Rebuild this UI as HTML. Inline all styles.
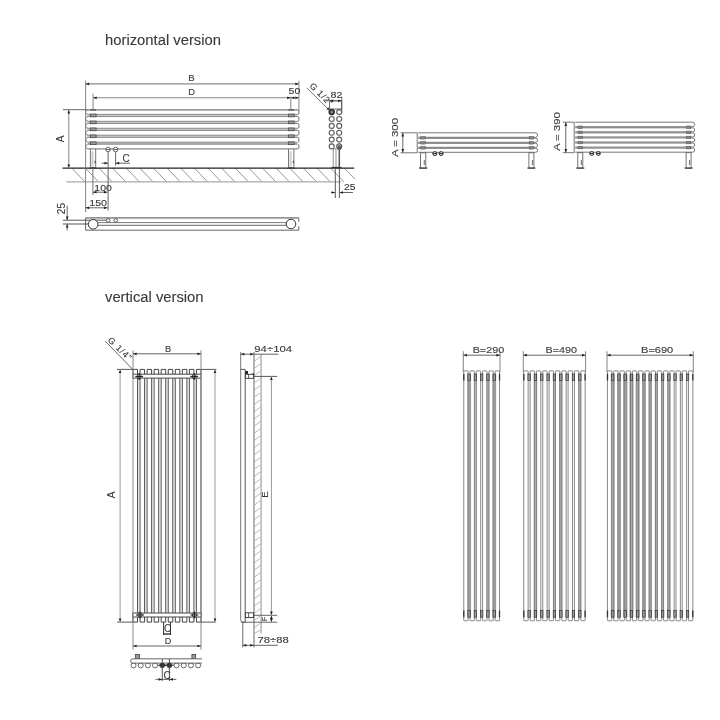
<!DOCTYPE html>
<html><head><meta charset="utf-8"><title>radiator</title>
<style>
html,body{margin:0;padding:0;background:#fff;}
body{width:720px;height:720px;overflow:hidden;}
svg{display:block;filter:blur(0.3px);font-family:"Liberation Sans",sans-serif;}
</style></head>
<body>
<svg width="720" height="720" viewBox="0 0 720 720">
<rect width="720" height="720" fill="#fff"/>
<text x="105.00" y="45.20" font-size="14" text-anchor="start" fill="#3a3a3a" stroke="#3a3a3a" stroke-width="0.12" textLength="116" lengthAdjust="spacingAndGlyphs">horizontal version</text>
<line x1="71.70" y1="168.10" x2="84.90" y2="181.80" stroke="#858585" stroke-width="0.85"/>
<line x1="85.33" y1="168.10" x2="98.53" y2="181.80" stroke="#858585" stroke-width="0.85"/>
<line x1="98.96" y1="168.10" x2="112.16" y2="181.80" stroke="#858585" stroke-width="0.85"/>
<line x1="112.59" y1="168.10" x2="125.79" y2="181.80" stroke="#858585" stroke-width="0.85"/>
<line x1="126.22" y1="168.10" x2="139.42" y2="181.80" stroke="#858585" stroke-width="0.85"/>
<line x1="139.85" y1="168.10" x2="153.05" y2="181.80" stroke="#858585" stroke-width="0.85"/>
<line x1="153.48" y1="168.10" x2="166.68" y2="181.80" stroke="#858585" stroke-width="0.85"/>
<line x1="167.11" y1="168.10" x2="180.31" y2="181.80" stroke="#858585" stroke-width="0.85"/>
<line x1="180.74" y1="168.10" x2="193.94" y2="181.80" stroke="#858585" stroke-width="0.85"/>
<line x1="194.37" y1="168.10" x2="207.57" y2="181.80" stroke="#858585" stroke-width="0.85"/>
<line x1="208.00" y1="168.10" x2="221.20" y2="181.80" stroke="#858585" stroke-width="0.85"/>
<line x1="221.63" y1="168.10" x2="234.83" y2="181.80" stroke="#858585" stroke-width="0.85"/>
<line x1="235.26" y1="168.10" x2="248.46" y2="181.80" stroke="#858585" stroke-width="0.85"/>
<line x1="248.89" y1="168.10" x2="262.09" y2="181.80" stroke="#858585" stroke-width="0.85"/>
<line x1="262.52" y1="168.10" x2="275.72" y2="181.80" stroke="#858585" stroke-width="0.85"/>
<line x1="276.15" y1="168.10" x2="289.35" y2="181.80" stroke="#858585" stroke-width="0.85"/>
<line x1="289.78" y1="168.10" x2="302.98" y2="181.80" stroke="#858585" stroke-width="0.85"/>
<line x1="303.41" y1="168.10" x2="316.61" y2="181.80" stroke="#858585" stroke-width="0.85"/>
<line x1="317.04" y1="168.10" x2="330.24" y2="181.80" stroke="#858585" stroke-width="0.85"/>
<line x1="330.67" y1="168.10" x2="343.87" y2="181.80" stroke="#858585" stroke-width="0.85"/>
<line x1="344.30" y1="168.10" x2="355.00" y2="179.21" stroke="#858585" stroke-width="0.85"/>
<line x1="66.50" y1="181.80" x2="341.50" y2="181.80" stroke="#aaa" stroke-width="1.2"/>
<line x1="62.50" y1="168.10" x2="354.20" y2="168.10" stroke="#222" stroke-width="1.15"/>
<path d="M87.77,109.90 A2.17,2.17 0 0 0 87.77,114.25" stroke="#888" fill="none" stroke-width="0.9"/>
<path d="M297.90,109.90 Q298.9,109.90 298.9,110.90 L298.9,113.25 Q298.9,114.25 297.90,114.25" stroke="#6a6a6a" fill="none" stroke-width="1.0"/>
<path d="M87.88,116.65 A2.27,2.27 0 0 0 87.88,121.20" stroke="#888" fill="none" stroke-width="0.9"/>
<path d="M297.90,116.65 Q298.9,116.65 298.9,117.65 L298.9,120.20 Q298.9,121.20 297.90,121.20" stroke="#6a6a6a" fill="none" stroke-width="1.0"/>
<path d="M87.88,123.60 A2.27,2.27 0 0 0 87.88,128.15" stroke="#888" fill="none" stroke-width="0.9"/>
<path d="M297.90,123.60 Q298.9,123.60 298.9,124.60 L298.9,127.15 Q298.9,128.15 297.90,128.15" stroke="#6a6a6a" fill="none" stroke-width="1.0"/>
<path d="M87.88,130.55 A2.28,2.28 0 0 0 87.88,135.10" stroke="#888" fill="none" stroke-width="0.9"/>
<path d="M297.90,130.55 Q298.9,130.55 298.9,131.55 L298.9,134.10 Q298.9,135.10 297.90,135.10" stroke="#6a6a6a" fill="none" stroke-width="1.0"/>
<path d="M87.88,137.50 A2.28,2.28 0 0 0 87.88,142.05" stroke="#888" fill="none" stroke-width="0.9"/>
<path d="M297.90,137.50 Q298.9,137.50 298.9,138.50 L298.9,141.05 Q298.9,142.05 297.90,142.05" stroke="#6a6a6a" fill="none" stroke-width="1.0"/>
<path d="M87.78,144.45 A2.18,2.18 0 0 0 87.78,148.80" stroke="#888" fill="none" stroke-width="0.9"/>
<path d="M297.90,144.45 Q298.9,144.45 298.9,145.45 L298.9,147.80 Q298.9,148.80 297.90,148.80" stroke="#6a6a6a" fill="none" stroke-width="1.0"/>
<rect x="87.60" y="114.25" width="209.80" height="2.40" rx="0" stroke="none" fill="#c8c8c8" stroke-width="1"/>
<line x1="87.10" y1="114.35" x2="297.90" y2="114.35" stroke="#858585" stroke-width="0.9"/>
<line x1="87.10" y1="116.55" x2="297.90" y2="116.55" stroke="#858585" stroke-width="0.9"/>
<rect x="90.30" y="114.05" width="5.80" height="2.80" rx="0" stroke="#444" fill="#999" stroke-width="0.7"/>
<rect x="288.30" y="114.05" width="5.80" height="2.80" rx="0" stroke="#444" fill="#999" stroke-width="0.7"/>
<rect x="87.60" y="121.20" width="209.80" height="2.40" rx="0" stroke="none" fill="#c8c8c8" stroke-width="1"/>
<line x1="87.10" y1="121.30" x2="297.90" y2="121.30" stroke="#858585" stroke-width="0.9"/>
<line x1="87.10" y1="123.50" x2="297.90" y2="123.50" stroke="#858585" stroke-width="0.9"/>
<rect x="90.30" y="121.00" width="5.80" height="2.80" rx="0" stroke="#444" fill="#999" stroke-width="0.7"/>
<rect x="288.30" y="121.00" width="5.80" height="2.80" rx="0" stroke="#444" fill="#999" stroke-width="0.7"/>
<rect x="87.60" y="128.15" width="209.80" height="2.40" rx="0" stroke="none" fill="#c8c8c8" stroke-width="1"/>
<line x1="87.10" y1="128.25" x2="297.90" y2="128.25" stroke="#858585" stroke-width="0.9"/>
<line x1="87.10" y1="130.45" x2="297.90" y2="130.45" stroke="#858585" stroke-width="0.9"/>
<rect x="90.30" y="127.95" width="5.80" height="2.80" rx="0" stroke="#444" fill="#999" stroke-width="0.7"/>
<rect x="288.30" y="127.95" width="5.80" height="2.80" rx="0" stroke="#444" fill="#999" stroke-width="0.7"/>
<rect x="87.60" y="135.10" width="209.80" height="2.40" rx="0" stroke="none" fill="#c8c8c8" stroke-width="1"/>
<line x1="87.10" y1="135.20" x2="297.90" y2="135.20" stroke="#858585" stroke-width="0.9"/>
<line x1="87.10" y1="137.40" x2="297.90" y2="137.40" stroke="#858585" stroke-width="0.9"/>
<rect x="90.30" y="134.90" width="5.80" height="2.80" rx="0" stroke="#444" fill="#999" stroke-width="0.7"/>
<rect x="288.30" y="134.90" width="5.80" height="2.80" rx="0" stroke="#444" fill="#999" stroke-width="0.7"/>
<rect x="87.60" y="141.55" width="209.80" height="3.40" rx="0" stroke="none" fill="#a6a6a6" stroke-width="1"/>
<rect x="90.30" y="141.85" width="5.80" height="2.80" rx="0" stroke="#444" fill="#999" stroke-width="0.7"/>
<rect x="288.30" y="141.85" width="5.80" height="2.80" rx="0" stroke="#444" fill="#999" stroke-width="0.7"/>
<line x1="85.60" y1="109.90" x2="297.90" y2="109.90" stroke="#777" stroke-width="1.1"/>
<line x1="87.60" y1="148.80" x2="297.90" y2="148.80" stroke="#888" stroke-width="1.2"/>
<rect x="90.30" y="109.30" width="5.80" height="1.30" rx="0" stroke="none" fill="#555" stroke-width="1"/>
<rect x="288.30" y="109.30" width="5.80" height="1.30" rx="0" stroke="none" fill="#555" stroke-width="1"/>
<rect x="91.40" y="151.30" width="2.20" height="15.30" rx="0" stroke="none" fill="#d0d0d0" stroke-width="1"/>
<line x1="90.40" y1="148.80" x2="90.40" y2="168.10" stroke="#777" stroke-width="1"/>
<line x1="95.70" y1="148.80" x2="95.70" y2="168.10" stroke="#777" stroke-width="1"/>
<line x1="95.10" y1="160.80" x2="95.10" y2="163.20" stroke="#333" stroke-width="1"/>
<path d="M87.90,168.40 Q93.05,165.90 98.20,168.40 Z" stroke="none" fill="#333" stroke-width="1"/>
<rect x="289.50" y="151.30" width="2.20" height="15.30" rx="0" stroke="none" fill="#d0d0d0" stroke-width="1"/>
<line x1="288.50" y1="148.80" x2="288.50" y2="168.10" stroke="#777" stroke-width="1"/>
<line x1="293.90" y1="148.80" x2="293.90" y2="168.10" stroke="#777" stroke-width="1"/>
<line x1="293.30" y1="160.80" x2="293.30" y2="163.20" stroke="#333" stroke-width="1"/>
<path d="M286.00,168.40 Q291.20,165.90 296.40,168.40 Z" stroke="none" fill="#333" stroke-width="1"/>
<circle cx="108.10" cy="149.50" r="2.30" stroke="#555" fill="#fff" stroke-width="0.9"/>
<line x1="105.80" y1="149.50" x2="110.40" y2="149.50" stroke="#555" stroke-width="0.9"/>
<circle cx="115.60" cy="149.50" r="2.30" stroke="#555" fill="#fff" stroke-width="0.9"/>
<line x1="113.30" y1="149.50" x2="117.90" y2="149.50" stroke="#555" stroke-width="0.9"/>
<line x1="108.10" y1="151.80" x2="108.10" y2="210.50" stroke="#666" stroke-width="1"/>
<line x1="115.60" y1="151.80" x2="115.60" y2="165.60" stroke="#666" stroke-width="1"/>
<line x1="85.60" y1="80.60" x2="85.60" y2="210.00" stroke="#777" stroke-width="0.9"/>
<line x1="298.90" y1="80.80" x2="298.90" y2="111.00" stroke="#777" stroke-width="0.9"/>
<line x1="85.60" y1="83.90" x2="298.90" y2="83.90" stroke="#888" stroke-width="1.1"/>
<path d="M85.80,83.90 L89.20,82.55 L89.20,85.25 Z" fill="#222"/>
<path d="M298.70,83.90 L295.30,85.25 L295.30,82.55 Z" fill="#222"/>
<text x="191.40" y="80.70" font-size="9.6" text-anchor="middle" fill="#3a3a3a" stroke="#3a3a3a" stroke-width="0.12">B</text>
<line x1="93.10" y1="93.70" x2="93.10" y2="110.00" stroke="#777" stroke-width="0.9"/>
<line x1="290.80" y1="96.50" x2="290.80" y2="110.00" stroke="#777" stroke-width="0.9"/>
<line x1="93.10" y1="97.80" x2="298.90" y2="97.80" stroke="#888" stroke-width="1.1"/>
<path d="M93.30,97.80 L96.70,96.45 L96.70,99.15 Z" fill="#222"/>
<path d="M290.60,97.80 L287.20,99.15 L287.20,96.45 Z" fill="#222"/>
<path d="M291.00,97.80 L294.40,96.45 L294.40,99.15 Z" fill="#222"/>
<path d="M298.70,97.80 L295.30,99.15 L295.30,96.45 Z" fill="#222"/>
<text x="191.65" y="95.40" font-size="9.3" text-anchor="middle" fill="#3a3a3a" stroke="#3a3a3a" stroke-width="0.12">D</text>
<text x="294.50" y="94.00" font-size="8.9" text-anchor="middle" fill="#3a3a3a" stroke="#3a3a3a" stroke-width="0.12" textLength="11.8" lengthAdjust="spacingAndGlyphs">50</text>
<line x1="63.00" y1="109.70" x2="86.00" y2="109.70" stroke="#555" stroke-width="0.9"/>
<line x1="68.80" y1="109.70" x2="68.80" y2="168.10" stroke="#777" stroke-width="0.9"/>
<path d="M68.80,110.00 L70.15,113.40 L67.45,113.40 Z" fill="#222"/>
<path d="M68.80,167.80 L67.45,164.40 L70.15,164.40 Z" fill="#222"/>
<text x="64.20" y="139.00" font-size="10" text-anchor="middle" fill="#3a3a3a" stroke="#3a3a3a" stroke-width="0.12" transform="rotate(-90 64.20 139.00)">A</text>
<line x1="101.60" y1="163.20" x2="108.10" y2="163.20" stroke="#555" stroke-width="0.9"/>
<path d="M107.90,163.20 L104.50,164.55 L104.50,161.85 Z" fill="#222"/>
<line x1="115.60" y1="163.20" x2="130.00" y2="163.20" stroke="#555" stroke-width="0.9"/>
<path d="M115.80,163.20 L119.20,161.85 L119.20,164.55 Z" fill="#222"/>
<text x="126.05" y="161.90" font-size="10" text-anchor="middle" fill="#3a3a3a" stroke="#3a3a3a" stroke-width="0.12">C</text>
<line x1="92.90" y1="168.00" x2="92.90" y2="195.00" stroke="#666" stroke-width="0.9"/>
<line x1="92.90" y1="192.20" x2="107.50" y2="192.20" stroke="#555" stroke-width="0.9"/>
<path d="M93.10,192.20 L96.50,190.85 L96.50,193.55 Z" fill="#222"/>
<path d="M107.30,192.20 L103.90,193.55 L103.90,190.85 Z" fill="#222"/>
<text x="103.15" y="191.00" font-size="9.6" text-anchor="middle" fill="#3a3a3a" stroke="#3a3a3a" stroke-width="0.12" textLength="17.6" lengthAdjust="spacingAndGlyphs">100</text>
<line x1="85.60" y1="207.80" x2="107.50" y2="207.80" stroke="#555" stroke-width="0.9"/>
<path d="M85.80,207.80 L89.20,206.45 L89.20,209.15 Z" fill="#222"/>
<path d="M107.30,207.80 L103.90,209.15 L103.90,206.45 Z" fill="#222"/>
<text x="98.15" y="206.00" font-size="9.3" text-anchor="middle" fill="#3a3a3a" stroke="#3a3a3a" stroke-width="0.12" textLength="17.9" lengthAdjust="spacingAndGlyphs">150</text>
<circle cx="331.70" cy="112.10" r="2.50" stroke="#5a5a5a" fill="#fff" stroke-width="1.1"/>
<circle cx="339.20" cy="112.10" r="2.50" stroke="#5a5a5a" fill="#fff" stroke-width="1.1"/>
<circle cx="331.70" cy="119.00" r="2.50" stroke="#5a5a5a" fill="#fff" stroke-width="1.1"/>
<circle cx="339.20" cy="119.00" r="2.50" stroke="#5a5a5a" fill="#fff" stroke-width="1.1"/>
<circle cx="331.70" cy="125.90" r="2.50" stroke="#5a5a5a" fill="#fff" stroke-width="1.1"/>
<circle cx="339.20" cy="125.90" r="2.50" stroke="#5a5a5a" fill="#fff" stroke-width="1.1"/>
<circle cx="331.70" cy="132.80" r="2.50" stroke="#5a5a5a" fill="#fff" stroke-width="1.1"/>
<circle cx="339.20" cy="132.80" r="2.50" stroke="#5a5a5a" fill="#fff" stroke-width="1.1"/>
<circle cx="331.70" cy="139.60" r="2.50" stroke="#5a5a5a" fill="#fff" stroke-width="1.1"/>
<circle cx="339.20" cy="139.60" r="2.50" stroke="#5a5a5a" fill="#fff" stroke-width="1.1"/>
<circle cx="331.70" cy="146.40" r="2.50" stroke="#5a5a5a" fill="#fff" stroke-width="1.1"/>
<circle cx="339.20" cy="146.40" r="2.50" stroke="#5a5a5a" fill="#fff" stroke-width="1.1"/>
<circle cx="331.70" cy="112.10" r="2.40" stroke="#222" fill="#888" stroke-width="1.4"/>
<rect x="329.60" y="100.80" width="12.10" height="8.20" rx="0" stroke="#555" fill="none" stroke-width="0.9"/>
<line x1="341.70" y1="96.50" x2="341.70" y2="112.00" stroke="#555" stroke-width="0.9"/>
<line x1="325.50" y1="100.80" x2="341.70" y2="100.80" stroke="#666" stroke-width="0.9"/>
<path d="M329.80,100.80 L333.20,99.45 L333.20,102.15 Z" fill="#222"/>
<path d="M341.50,100.80 L338.10,102.15 L338.10,99.45 Z" fill="#222"/>
<text x="336.45" y="97.70" font-size="8.9" text-anchor="middle" fill="#3a3a3a" stroke="#3a3a3a" stroke-width="0.12" textLength="11.9" lengthAdjust="spacingAndGlyphs">82</text>
<line x1="306.90" y1="88.00" x2="329.00" y2="109.80" stroke="#666" stroke-width="0.9"/>
<path d="M329.50,110.30 L326.42,109.13 L328.33,107.22 Z" fill="#222"/>
<text x="309.00" y="86.40" font-size="8.8" text-anchor="start" fill="#3a3a3a" stroke="#3a3a3a" stroke-width="0.12" transform="rotate(44.6 309.00 86.40)" textLength="28" lengthAdjust="spacing">G 1/2"</text>
<rect x="333.20" y="148.80" width="2.80" height="19.30" rx="0" stroke="#777" fill="none" stroke-width="0.8"/>
<rect x="338.00" y="145.80" width="2.60" height="3.60" rx="0" stroke="#333" fill="#666" stroke-width="0.6"/>
<line x1="339.30" y1="149.40" x2="339.30" y2="168.10" stroke="#555" stroke-width="1.5"/>
<rect x="331.50" y="166.90" width="10.00" height="1.40" rx="0" stroke="none" fill="#333" stroke-width="1"/>
<line x1="335.30" y1="168.10" x2="335.30" y2="198.00" stroke="#444" stroke-width="0.9"/>
<line x1="339.40" y1="168.10" x2="339.40" y2="198.00" stroke="#444" stroke-width="0.9"/>
<line x1="331.00" y1="192.50" x2="335.30" y2="192.50" stroke="#555" stroke-width="0.9"/>
<path d="M335.10,192.50 L331.70,193.85 L331.70,191.15 Z" fill="#222"/>
<line x1="339.40" y1="192.50" x2="353.00" y2="192.50" stroke="#555" stroke-width="0.9"/>
<path d="M339.60,192.50 L343.00,191.15 L343.00,193.85 Z" fill="#222"/>
<text x="349.65" y="189.70" font-size="8.9" text-anchor="middle" fill="#3a3a3a" stroke="#3a3a3a" stroke-width="0.12" textLength="11.5" lengthAdjust="spacingAndGlyphs">25</text>
<path d="M298.8,222 L298.8,217.8 L85.6,217.8 L85.6,230.2 L298.8,230.2 L298.8,226" stroke="#666" fill="none" stroke-width="1"/>
<line x1="85.60" y1="218.60" x2="298.80" y2="218.60" stroke="#aaa" stroke-width="0.8"/>
<line x1="62.80" y1="220.20" x2="106.30" y2="220.20" stroke="#444" stroke-width="0.9"/>
<line x1="62.80" y1="224.00" x2="88.40" y2="224.00" stroke="#444" stroke-width="0.9"/>
<line x1="97.80" y1="222.60" x2="286.20" y2="222.60" stroke="#7a7a7a" stroke-width="1.0"/>
<line x1="97.80" y1="225.30" x2="286.20" y2="225.30" stroke="#555" stroke-width="0.9"/>
<circle cx="93.10" cy="224.30" r="4.80" stroke="#333" fill="#fff" stroke-width="1"/>
<circle cx="291.00" cy="224.00" r="4.80" stroke="#333" fill="#fff" stroke-width="1"/>
<circle cx="108.20" cy="220.40" r="1.80" stroke="#444" fill="#fff" stroke-width="0.9"/>
<circle cx="115.70" cy="220.40" r="1.80" stroke="#444" fill="#fff" stroke-width="0.9"/>
<line x1="67.20" y1="205.60" x2="67.20" y2="220.20" stroke="#555" stroke-width="0.9"/>
<path d="M67.20,220.00 L65.85,216.60 L68.55,216.60 Z" fill="#222"/>
<line x1="67.20" y1="224.00" x2="67.20" y2="230.50" stroke="#555" stroke-width="0.9"/>
<path d="M67.20,224.20 L68.55,227.60 L65.85,227.60 Z" fill="#222"/>
<text x="64.60" y="208.60" font-size="10" text-anchor="middle" fill="#3a3a3a" stroke="#3a3a3a" stroke-width="0.12" transform="rotate(-90 64.60 208.60)">25</text>
<line x1="85.60" y1="210.00" x2="85.60" y2="212.00" stroke="#666" stroke-width="0.9"/>
<path d="M418.20,132.80 L535.35,132.80 A2.25,2.25 0 0 1 535.35,137.30 L418.20,137.30" stroke="#666" fill="none" stroke-width="0.9"/>
<path d="M418.20,138.30 L535.60,138.30 A2.00,2.00 0 0 1 535.60,142.30 L418.20,142.30" stroke="#666" fill="none" stroke-width="0.9"/>
<rect x="420.80" y="136.50" width="4.40" height="2.60" rx="0" stroke="#555" fill="#888" stroke-width="0.5"/>
<rect x="529.20" y="136.50" width="4.40" height="2.60" rx="0" stroke="#555" fill="#888" stroke-width="0.5"/>
<path d="M418.20,143.30 L535.60,143.30 A2.00,2.00 0 0 1 535.60,147.30 L418.20,147.30" stroke="#666" fill="none" stroke-width="0.9"/>
<rect x="420.80" y="141.50" width="4.40" height="2.60" rx="0" stroke="#555" fill="#888" stroke-width="0.5"/>
<rect x="529.20" y="141.50" width="4.40" height="2.60" rx="0" stroke="#555" fill="#888" stroke-width="0.5"/>
<path d="M418.20,148.30 L535.60,148.30 A2.00,2.00 0 0 1 535.60,152.30 L418.20,152.30" stroke="#666" fill="none" stroke-width="0.9"/>
<rect x="420.80" y="146.50" width="4.40" height="2.60" rx="0" stroke="#555" fill="#888" stroke-width="0.5"/>
<rect x="529.20" y="146.50" width="4.40" height="2.60" rx="0" stroke="#555" fill="#888" stroke-width="0.5"/>
<line x1="417.20" y1="132.80" x2="417.20" y2="152.80" stroke="#666" stroke-width="0.9"/>
<line x1="400.50" y1="132.80" x2="417.20" y2="132.80" stroke="#666" stroke-width="0.9"/>
<line x1="400.50" y1="152.80" x2="417.20" y2="152.80" stroke="#666" stroke-width="0.9"/>
<line x1="402.80" y1="132.80" x2="402.80" y2="152.80" stroke="#555" stroke-width="0.9"/>
<path d="M402.80,133.10 L404.15,136.50 L401.45,136.50 Z" fill="#222"/>
<path d="M402.80,152.50 L401.45,149.10 L404.15,149.10 Z" fill="#222"/>
<text x="397.90" y="137.50" font-size="9.5" text-anchor="middle" fill="#3a3a3a" stroke="#3a3a3a" stroke-width="0.12" transform="rotate(-90 397.90 137.50)" textLength="39" lengthAdjust="spacingAndGlyphs">A = 300</text>
<rect x="420.50" y="152.80" width="5.30" height="15.40" rx="0" stroke="#666" fill="none" stroke-width="0.9"/>
<line x1="424.30" y1="160.00" x2="424.30" y2="165.00" stroke="#444" stroke-width="0.8"/>
<rect x="419.00" y="167.40" width="8.30" height="1.30" rx="0" stroke="none" fill="#444" stroke-width="1"/>
<rect x="528.90" y="152.80" width="5.00" height="15.40" rx="0" stroke="#666" fill="none" stroke-width="0.9"/>
<line x1="532.40" y1="160.00" x2="532.40" y2="165.00" stroke="#444" stroke-width="0.8"/>
<rect x="527.40" y="167.40" width="8.00" height="1.30" rx="0" stroke="none" fill="#444" stroke-width="1"/>
<circle cx="434.80" cy="153.60" r="2.00" stroke="#333" fill="#ddd" stroke-width="1.0"/>
<line x1="432.80" y1="153.60" x2="436.80" y2="153.60" stroke="#333" stroke-width="1.0"/>
<circle cx="441.10" cy="153.60" r="2.00" stroke="#333" fill="#ddd" stroke-width="1.0"/>
<line x1="439.10" y1="153.60" x2="443.10" y2="153.60" stroke="#333" stroke-width="1.0"/>
<path d="M575.20,122.20 L692.41,122.20 A2.29,2.29 0 0 1 692.41,126.78 L575.20,126.78" stroke="#666" fill="none" stroke-width="0.9"/>
<path d="M575.20,127.78 L692.66,127.78 A2.04,2.04 0 0 1 692.66,131.86 L575.20,131.86" stroke="#666" fill="none" stroke-width="0.9"/>
<rect x="578.10" y="125.98" width="4.40" height="2.60" rx="0" stroke="#555" fill="#888" stroke-width="0.5"/>
<rect x="686.40" y="125.98" width="4.40" height="2.60" rx="0" stroke="#555" fill="#888" stroke-width="0.5"/>
<path d="M575.20,132.86 L692.66,132.86 A2.04,2.04 0 0 1 692.66,136.94 L575.20,136.94" stroke="#666" fill="none" stroke-width="0.9"/>
<rect x="578.10" y="131.06" width="4.40" height="2.60" rx="0" stroke="#555" fill="#888" stroke-width="0.5"/>
<rect x="686.40" y="131.06" width="4.40" height="2.60" rx="0" stroke="#555" fill="#888" stroke-width="0.5"/>
<path d="M575.20,137.94 L692.66,137.94 A2.04,2.04 0 0 1 692.66,142.02 L575.20,142.02" stroke="#666" fill="none" stroke-width="0.9"/>
<rect x="578.10" y="136.14" width="4.40" height="2.60" rx="0" stroke="#555" fill="#888" stroke-width="0.5"/>
<rect x="686.40" y="136.14" width="4.40" height="2.60" rx="0" stroke="#555" fill="#888" stroke-width="0.5"/>
<path d="M575.20,143.02 L692.66,143.02 A2.04,2.04 0 0 1 692.66,147.10 L575.20,147.10" stroke="#666" fill="none" stroke-width="0.9"/>
<rect x="578.10" y="141.22" width="4.40" height="2.60" rx="0" stroke="#555" fill="#888" stroke-width="0.5"/>
<rect x="686.40" y="141.22" width="4.40" height="2.60" rx="0" stroke="#555" fill="#888" stroke-width="0.5"/>
<path d="M575.20,148.10 L692.66,148.10 A2.04,2.04 0 0 1 692.66,152.18 L575.20,152.18" stroke="#666" fill="none" stroke-width="0.9"/>
<rect x="578.10" y="146.30" width="4.40" height="2.60" rx="0" stroke="#555" fill="#888" stroke-width="0.5"/>
<rect x="686.40" y="146.30" width="4.40" height="2.60" rx="0" stroke="#555" fill="#888" stroke-width="0.5"/>
<line x1="574.20" y1="122.20" x2="574.20" y2="152.68" stroke="#666" stroke-width="0.9"/>
<line x1="562.80" y1="122.20" x2="574.20" y2="122.20" stroke="#666" stroke-width="0.9"/>
<line x1="562.80" y1="152.68" x2="574.20" y2="152.68" stroke="#666" stroke-width="0.9"/>
<line x1="565.80" y1="122.20" x2="565.80" y2="152.68" stroke="#555" stroke-width="0.9"/>
<path d="M565.80,122.50 L567.15,125.90 L564.45,125.90 Z" fill="#222"/>
<path d="M565.80,152.38 L564.45,148.98 L567.15,148.98 Z" fill="#222"/>
<text x="560.10" y="131.60" font-size="9.5" text-anchor="middle" fill="#3a3a3a" stroke="#3a3a3a" stroke-width="0.12" transform="rotate(-90 560.10 131.60)" textLength="39" lengthAdjust="spacingAndGlyphs">A = 390</text>
<rect x="577.80" y="152.68" width="5.00" height="15.52" rx="0" stroke="#666" fill="none" stroke-width="0.9"/>
<line x1="581.30" y1="160.00" x2="581.30" y2="165.00" stroke="#444" stroke-width="0.8"/>
<rect x="576.30" y="167.40" width="8.00" height="1.30" rx="0" stroke="none" fill="#444" stroke-width="1"/>
<rect x="686.10" y="152.68" width="5.00" height="15.52" rx="0" stroke="#666" fill="none" stroke-width="0.9"/>
<line x1="689.60" y1="160.00" x2="689.60" y2="165.00" stroke="#444" stroke-width="0.8"/>
<rect x="684.60" y="167.40" width="8.00" height="1.30" rx="0" stroke="none" fill="#444" stroke-width="1"/>
<circle cx="591.70" cy="153.48" r="2.00" stroke="#333" fill="#ddd" stroke-width="1.0"/>
<line x1="589.70" y1="153.48" x2="593.70" y2="153.48" stroke="#333" stroke-width="1.0"/>
<circle cx="598.30" cy="153.48" r="2.00" stroke="#333" fill="#ddd" stroke-width="1.0"/>
<line x1="596.30" y1="153.48" x2="600.30" y2="153.48" stroke="#333" stroke-width="1.0"/>
<text x="105.00" y="302.10" font-size="14" text-anchor="start" fill="#3a3a3a" stroke="#3a3a3a" stroke-width="0.12" textLength="98.5" lengthAdjust="spacingAndGlyphs">vertical version</text>
<rect x="138.00" y="378.20" width="1.55" height="234.40" rx="0" stroke="none" fill="#e2e2e2" stroke-width="1"/>
<rect x="145.05" y="378.20" width="1.55" height="234.40" rx="0" stroke="none" fill="#e2e2e2" stroke-width="1"/>
<rect x="152.10" y="378.20" width="1.55" height="234.40" rx="0" stroke="none" fill="#e2e2e2" stroke-width="1"/>
<rect x="159.15" y="378.20" width="1.55" height="234.40" rx="0" stroke="none" fill="#e2e2e2" stroke-width="1"/>
<rect x="166.20" y="378.20" width="1.55" height="234.40" rx="0" stroke="none" fill="#e2e2e2" stroke-width="1"/>
<rect x="173.25" y="378.20" width="1.55" height="234.40" rx="0" stroke="none" fill="#e2e2e2" stroke-width="1"/>
<rect x="180.30" y="378.20" width="1.55" height="234.40" rx="0" stroke="none" fill="#e2e2e2" stroke-width="1"/>
<rect x="187.35" y="378.20" width="1.55" height="234.40" rx="0" stroke="none" fill="#e2e2e2" stroke-width="1"/>
<rect x="194.40" y="378.20" width="1.55" height="234.40" rx="0" stroke="none" fill="#e2e2e2" stroke-width="1"/>
<line x1="137.50" y1="378.20" x2="137.50" y2="613.00" stroke="#5a5a5a" stroke-width="1"/>
<line x1="140.05" y1="378.20" x2="140.05" y2="613.00" stroke="#5a5a5a" stroke-width="1"/>
<line x1="144.55" y1="378.20" x2="144.55" y2="613.00" stroke="#5a5a5a" stroke-width="1"/>
<line x1="147.10" y1="378.20" x2="147.10" y2="613.00" stroke="#5a5a5a" stroke-width="1"/>
<line x1="151.60" y1="378.20" x2="151.60" y2="613.00" stroke="#5a5a5a" stroke-width="1"/>
<line x1="154.15" y1="378.20" x2="154.15" y2="613.00" stroke="#5a5a5a" stroke-width="1"/>
<line x1="158.65" y1="378.20" x2="158.65" y2="613.00" stroke="#5a5a5a" stroke-width="1"/>
<line x1="161.20" y1="378.20" x2="161.20" y2="613.00" stroke="#5a5a5a" stroke-width="1"/>
<line x1="165.70" y1="378.20" x2="165.70" y2="613.00" stroke="#5a5a5a" stroke-width="1"/>
<line x1="168.25" y1="378.20" x2="168.25" y2="613.00" stroke="#5a5a5a" stroke-width="1"/>
<line x1="172.75" y1="378.20" x2="172.75" y2="613.00" stroke="#5a5a5a" stroke-width="1"/>
<line x1="175.30" y1="378.20" x2="175.30" y2="613.00" stroke="#5a5a5a" stroke-width="1"/>
<line x1="179.80" y1="378.20" x2="179.80" y2="613.00" stroke="#5a5a5a" stroke-width="1"/>
<line x1="182.35" y1="378.20" x2="182.35" y2="613.00" stroke="#5a5a5a" stroke-width="1"/>
<line x1="186.85" y1="378.20" x2="186.85" y2="613.00" stroke="#5a5a5a" stroke-width="1"/>
<line x1="189.40" y1="378.20" x2="189.40" y2="613.00" stroke="#5a5a5a" stroke-width="1"/>
<line x1="193.90" y1="378.20" x2="193.90" y2="613.00" stroke="#5a5a5a" stroke-width="1"/>
<line x1="196.45" y1="378.20" x2="196.45" y2="613.00" stroke="#5a5a5a" stroke-width="1"/>
<line x1="200.95" y1="378.20" x2="200.95" y2="613.00" stroke="#5a5a5a" stroke-width="1"/>
<path d="M133.00,374.2 L133.00,369.40 L137.50,369.40 L137.50,374.2" stroke="#444" fill="none" stroke-width="1"/>
<path d="M133.00,617.0 L133.00,622.10 L137.50,622.10 L137.50,617.0" stroke="#444" fill="none" stroke-width="1"/>
<path d="M140.05,374.2 L140.05,369.40 L144.55,369.40 L144.55,374.2" stroke="#444" fill="none" stroke-width="1"/>
<path d="M140.05,617.0 L140.05,622.10 L144.55,622.10 L144.55,617.0" stroke="#444" fill="none" stroke-width="1"/>
<path d="M147.10,374.2 L147.10,369.40 L151.60,369.40 L151.60,374.2" stroke="#444" fill="none" stroke-width="1"/>
<path d="M147.10,617.0 L147.10,622.10 L151.60,622.10 L151.60,617.0" stroke="#444" fill="none" stroke-width="1"/>
<path d="M154.15,374.2 L154.15,369.40 L158.65,369.40 L158.65,374.2" stroke="#444" fill="none" stroke-width="1"/>
<path d="M154.15,617.0 L154.15,622.10 L158.65,622.10 L158.65,617.0" stroke="#444" fill="none" stroke-width="1"/>
<path d="M161.20,374.2 L161.20,369.40 L165.70,369.40 L165.70,374.2" stroke="#444" fill="none" stroke-width="1"/>
<path d="M161.20,617.0 L161.20,622.10 L165.70,622.10 L165.70,617.0" stroke="#444" fill="none" stroke-width="1"/>
<path d="M168.25,374.2 L168.25,369.40 L172.75,369.40 L172.75,374.2" stroke="#444" fill="none" stroke-width="1"/>
<path d="M168.25,617.0 L168.25,622.10 L172.75,622.10 L172.75,617.0" stroke="#444" fill="none" stroke-width="1"/>
<path d="M175.30,374.2 L175.30,369.40 L179.80,369.40 L179.80,374.2" stroke="#444" fill="none" stroke-width="1"/>
<path d="M175.30,617.0 L175.30,622.10 L179.80,622.10 L179.80,617.0" stroke="#444" fill="none" stroke-width="1"/>
<path d="M182.35,374.2 L182.35,369.40 L186.85,369.40 L186.85,374.2" stroke="#444" fill="none" stroke-width="1"/>
<path d="M182.35,617.0 L182.35,622.10 L186.85,622.10 L186.85,617.0" stroke="#444" fill="none" stroke-width="1"/>
<path d="M189.40,374.2 L189.40,369.40 L193.90,369.40 L193.90,374.2" stroke="#444" fill="none" stroke-width="1"/>
<path d="M189.40,617.0 L189.40,622.10 L193.90,622.10 L193.90,617.0" stroke="#444" fill="none" stroke-width="1"/>
<path d="M196.45,374.2 L196.45,369.40 L200.95,369.40 L200.95,374.2" stroke="#444" fill="none" stroke-width="1"/>
<path d="M196.45,617.0 L196.45,622.10 L200.95,622.10 L200.95,617.0" stroke="#444" fill="none" stroke-width="1"/>
<rect x="133.00" y="374.20" width="68.00" height="3.90" rx="0" stroke="#444" fill="#fff" stroke-width="1"/>
<rect x="132.70" y="613.00" width="68.60" height="4.00" rx="0" stroke="#444" fill="#fff" stroke-width="1"/>
<circle cx="139.20" cy="376.50" r="2.10" stroke="#333" fill="none" stroke-width="0.9"/>
<line x1="135.30" y1="376.50" x2="143.10" y2="376.50" stroke="#222" stroke-width="1.1"/>
<line x1="139.20" y1="373.00" x2="139.20" y2="380.00" stroke="#222" stroke-width="1.1"/>
<circle cx="194.20" cy="376.50" r="2.10" stroke="#333" fill="none" stroke-width="0.9"/>
<line x1="190.30" y1="376.50" x2="198.10" y2="376.50" stroke="#222" stroke-width="1.1"/>
<line x1="194.20" y1="373.00" x2="194.20" y2="380.00" stroke="#222" stroke-width="1.1"/>
<circle cx="140.00" cy="615.00" r="2.10" stroke="#333" fill="none" stroke-width="0.9"/>
<line x1="136.10" y1="615.00" x2="143.90" y2="615.00" stroke="#222" stroke-width="1.1"/>
<line x1="140.00" y1="611.50" x2="140.00" y2="618.50" stroke="#222" stroke-width="1.1"/>
<circle cx="194.40" cy="615.00" r="2.10" stroke="#333" fill="none" stroke-width="0.9"/>
<line x1="190.50" y1="615.00" x2="198.30" y2="615.00" stroke="#222" stroke-width="1.1"/>
<line x1="194.40" y1="611.50" x2="194.40" y2="618.50" stroke="#222" stroke-width="1.1"/>
<line x1="133.00" y1="350.40" x2="133.00" y2="649.60" stroke="#888" stroke-width="1"/>
<line x1="201.00" y1="350.40" x2="201.00" y2="649.60" stroke="#888" stroke-width="1"/>
<line x1="133.00" y1="353.80" x2="201.00" y2="353.80" stroke="#555" stroke-width="0.9"/>
<path d="M133.20,353.80 L136.60,352.45 L136.60,355.15 Z" fill="#222"/>
<path d="M200.80,353.80 L197.40,355.15 L197.40,352.45 Z" fill="#222"/>
<text x="168.00" y="351.60" font-size="9.3" text-anchor="middle" fill="#3a3a3a" stroke="#3a3a3a" stroke-width="0.12">B</text>
<line x1="116.90" y1="369.40" x2="133.00" y2="369.40" stroke="#444" stroke-width="0.9"/>
<line x1="201.00" y1="369.40" x2="216.40" y2="369.40" stroke="#444" stroke-width="0.9"/>
<line x1="117.20" y1="622.10" x2="133.00" y2="622.10" stroke="#444" stroke-width="0.9"/>
<line x1="201.00" y1="622.10" x2="215.60" y2="622.10" stroke="#444" stroke-width="0.9"/>
<line x1="120.10" y1="369.40" x2="120.10" y2="622.10" stroke="#999" stroke-width="1"/>
<line x1="215.00" y1="369.40" x2="215.00" y2="622.10" stroke="#999" stroke-width="1"/>
<path d="M120.10,369.70 L121.45,373.10 L118.75,373.10 Z" fill="#222"/>
<path d="M120.10,621.80 L118.75,618.40 L121.45,618.40 Z" fill="#222"/>
<path d="M215.00,369.70 L216.35,373.10 L213.65,373.10 Z" fill="#222"/>
<path d="M215.00,621.80 L213.65,618.40 L216.35,618.40 Z" fill="#222"/>
<text x="115.30" y="495.00" font-size="10" text-anchor="middle" fill="#3a3a3a" stroke="#3a3a3a" stroke-width="0.12" transform="rotate(-90 115.30 495.00)">A</text>
<line x1="105.20" y1="341.20" x2="132.60" y2="369.20" stroke="#555" stroke-width="0.9"/>
<text x="107.30" y="340.80" font-size="8.8" text-anchor="start" fill="#3a3a3a" stroke="#3a3a3a" stroke-width="0.12" transform="rotate(44.0 107.30 340.80)" textLength="29" lengthAdjust="spacing">G 1/4"</text>
<line x1="163.60" y1="622.10" x2="163.60" y2="635.00" stroke="#333" stroke-width="1"/>
<line x1="170.50" y1="622.10" x2="170.50" y2="635.00" stroke="#333" stroke-width="1"/>
<line x1="163.60" y1="634.00" x2="170.50" y2="634.00" stroke="#333" stroke-width="1.4"/>
<text x="167.50" y="631.70" font-size="10" text-anchor="middle" fill="#3a3a3a" stroke="#3a3a3a" stroke-width="0.12">C</text>
<line x1="133.00" y1="646.00" x2="201.00" y2="646.00" stroke="#555" stroke-width="0.9"/>
<path d="M133.20,646.00 L136.60,644.65 L136.60,647.35 Z" fill="#222"/>
<path d="M200.80,646.00 L197.40,647.35 L197.40,644.65 Z" fill="#222"/>
<text x="167.90" y="643.90" font-size="9.0" text-anchor="middle" fill="#3a3a3a" stroke="#3a3a3a" stroke-width="0.12">D</text>
<rect x="135.60" y="654.40" width="3.80" height="4.40" rx="0" stroke="#333" fill="#999" stroke-width="0.7"/>
<rect x="191.90" y="654.40" width="3.80" height="4.40" rx="0" stroke="#333" fill="#999" stroke-width="0.7"/>
<circle cx="133.50" cy="665.40" r="2.50" stroke="#555" fill="#fff" stroke-width="0.9"/>
<circle cx="140.68" cy="665.40" r="2.50" stroke="#555" fill="#fff" stroke-width="0.9"/>
<circle cx="147.86" cy="665.40" r="2.50" stroke="#555" fill="#fff" stroke-width="0.9"/>
<circle cx="155.04" cy="665.40" r="2.50" stroke="#555" fill="#fff" stroke-width="0.9"/>
<circle cx="162.22" cy="665.40" r="2.50" stroke="#555" fill="#fff" stroke-width="0.9"/>
<circle cx="169.40" cy="665.40" r="2.50" stroke="#555" fill="#fff" stroke-width="0.9"/>
<circle cx="176.58" cy="665.40" r="2.50" stroke="#555" fill="#fff" stroke-width="0.9"/>
<circle cx="183.76" cy="665.40" r="2.50" stroke="#555" fill="#fff" stroke-width="0.9"/>
<circle cx="190.94" cy="665.40" r="2.50" stroke="#555" fill="#fff" stroke-width="0.9"/>
<circle cx="198.12" cy="665.40" r="2.50" stroke="#555" fill="#fff" stroke-width="0.9"/>
<path d="M201.9,658.8 L132.8,658.8 Q130.6,658.8 130.6,661 Q130.6,663.1 132.8,663.1 L201.9,663.1" stroke="#555" fill="#fff" stroke-width="0.9"/>
<circle cx="162.30" cy="665.20" r="1.90" stroke="#222" fill="#444" stroke-width="0.9"/>
<line x1="157.80" y1="665.20" x2="166.80" y2="665.20" stroke="#222" stroke-width="0.9"/>
<circle cx="169.40" cy="665.20" r="1.90" stroke="#222" fill="#444" stroke-width="0.9"/>
<line x1="164.90" y1="665.20" x2="173.90" y2="665.20" stroke="#222" stroke-width="0.9"/>
<line x1="162.30" y1="659.00" x2="162.30" y2="681.00" stroke="#444" stroke-width="0.9"/>
<line x1="169.40" y1="659.00" x2="169.40" y2="681.00" stroke="#444" stroke-width="0.9"/>
<line x1="155.60" y1="679.40" x2="176.30" y2="679.40" stroke="#555" stroke-width="0.9"/>
<path d="M162.10,679.40 L158.70,680.75 L158.70,678.05 Z" fill="#222"/>
<path d="M169.60,679.40 L173.00,678.05 L173.00,680.75 Z" fill="#222"/>
<text x="167.00" y="678.80" font-size="10" text-anchor="middle" fill="#3a3a3a" stroke="#3a3a3a" stroke-width="0.12">C</text>
<path d="M240.7,352 L240.7,620 Q240.7,622.2 242.89999999999998,622.2 L245.2,622.2" stroke="#777" fill="none" stroke-width="1"/>
<path d="M240.7,369.4 L245.2,369.4 L245.2,622.2" stroke="#555" fill="none" stroke-width="1"/>
<line x1="254.00" y1="352.00" x2="254.00" y2="647.50" stroke="#8a8a8a" stroke-width="1.3"/>
<line x1="261.10" y1="354.00" x2="261.10" y2="633.30" stroke="#a8a8a8" stroke-width="1.3"/>
<line x1="260.60" y1="356.50" x2="254.50" y2="361.10" stroke="#b0b0b0" stroke-width="0.9"/>
<line x1="260.60" y1="363.70" x2="254.50" y2="368.30" stroke="#b0b0b0" stroke-width="0.9"/>
<line x1="260.60" y1="370.90" x2="254.50" y2="375.50" stroke="#b0b0b0" stroke-width="0.9"/>
<line x1="260.60" y1="378.10" x2="254.50" y2="382.70" stroke="#b0b0b0" stroke-width="0.9"/>
<line x1="260.60" y1="385.30" x2="254.50" y2="389.90" stroke="#b0b0b0" stroke-width="0.9"/>
<line x1="260.60" y1="392.50" x2="254.50" y2="397.10" stroke="#b0b0b0" stroke-width="0.9"/>
<line x1="260.60" y1="399.70" x2="254.50" y2="404.30" stroke="#b0b0b0" stroke-width="0.9"/>
<line x1="260.60" y1="406.90" x2="254.50" y2="411.50" stroke="#b0b0b0" stroke-width="0.9"/>
<line x1="260.60" y1="414.10" x2="254.50" y2="418.70" stroke="#b0b0b0" stroke-width="0.9"/>
<line x1="260.60" y1="421.30" x2="254.50" y2="425.90" stroke="#b0b0b0" stroke-width="0.9"/>
<line x1="260.60" y1="428.50" x2="254.50" y2="433.10" stroke="#b0b0b0" stroke-width="0.9"/>
<line x1="260.60" y1="435.70" x2="254.50" y2="440.30" stroke="#b0b0b0" stroke-width="0.9"/>
<line x1="260.60" y1="442.90" x2="254.50" y2="447.50" stroke="#b0b0b0" stroke-width="0.9"/>
<line x1="260.60" y1="450.10" x2="254.50" y2="454.70" stroke="#b0b0b0" stroke-width="0.9"/>
<line x1="260.60" y1="457.30" x2="254.50" y2="461.90" stroke="#b0b0b0" stroke-width="0.9"/>
<line x1="260.60" y1="464.50" x2="254.50" y2="469.10" stroke="#b0b0b0" stroke-width="0.9"/>
<line x1="260.60" y1="471.70" x2="254.50" y2="476.30" stroke="#b0b0b0" stroke-width="0.9"/>
<line x1="260.60" y1="478.90" x2="254.50" y2="483.50" stroke="#b0b0b0" stroke-width="0.9"/>
<line x1="260.60" y1="486.10" x2="254.50" y2="490.70" stroke="#b0b0b0" stroke-width="0.9"/>
<line x1="260.60" y1="493.30" x2="254.50" y2="497.90" stroke="#b0b0b0" stroke-width="0.9"/>
<line x1="260.60" y1="500.50" x2="254.50" y2="505.10" stroke="#b0b0b0" stroke-width="0.9"/>
<line x1="260.60" y1="507.70" x2="254.50" y2="512.30" stroke="#b0b0b0" stroke-width="0.9"/>
<line x1="260.60" y1="514.90" x2="254.50" y2="519.50" stroke="#b0b0b0" stroke-width="0.9"/>
<line x1="260.60" y1="522.10" x2="254.50" y2="526.70" stroke="#b0b0b0" stroke-width="0.9"/>
<line x1="260.60" y1="529.30" x2="254.50" y2="533.90" stroke="#b0b0b0" stroke-width="0.9"/>
<line x1="260.60" y1="536.50" x2="254.50" y2="541.10" stroke="#b0b0b0" stroke-width="0.9"/>
<line x1="260.60" y1="543.70" x2="254.50" y2="548.30" stroke="#b0b0b0" stroke-width="0.9"/>
<line x1="260.60" y1="550.90" x2="254.50" y2="555.50" stroke="#b0b0b0" stroke-width="0.9"/>
<line x1="260.60" y1="558.10" x2="254.50" y2="562.70" stroke="#b0b0b0" stroke-width="0.9"/>
<line x1="260.60" y1="565.30" x2="254.50" y2="569.90" stroke="#b0b0b0" stroke-width="0.9"/>
<line x1="260.60" y1="572.50" x2="254.50" y2="577.10" stroke="#b0b0b0" stroke-width="0.9"/>
<line x1="260.60" y1="579.70" x2="254.50" y2="584.30" stroke="#b0b0b0" stroke-width="0.9"/>
<line x1="260.60" y1="586.90" x2="254.50" y2="591.50" stroke="#b0b0b0" stroke-width="0.9"/>
<line x1="260.60" y1="594.10" x2="254.50" y2="598.70" stroke="#b0b0b0" stroke-width="0.9"/>
<line x1="260.60" y1="601.30" x2="254.50" y2="605.90" stroke="#b0b0b0" stroke-width="0.9"/>
<line x1="260.60" y1="608.50" x2="254.50" y2="613.10" stroke="#b0b0b0" stroke-width="0.9"/>
<line x1="260.60" y1="615.70" x2="254.50" y2="620.30" stroke="#b0b0b0" stroke-width="0.9"/>
<line x1="260.60" y1="622.90" x2="254.50" y2="627.50" stroke="#b0b0b0" stroke-width="0.9"/>
<line x1="260.60" y1="630.10" x2="254.50" y2="633.30" stroke="#b0b0b0" stroke-width="0.9"/>
<rect x="245.20" y="371.00" width="2.80" height="2.90" rx="0" stroke="none" fill="#222" stroke-width="1"/>
<rect x="245.40" y="374.30" width="8.20" height="4.00" rx="0" stroke="#333" fill="#fff" stroke-width="0.9"/>
<rect x="252.40" y="373.40" width="1.60" height="1.40" rx="0" stroke="none" fill="#222" stroke-width="1"/>
<line x1="248.60" y1="374.30" x2="248.60" y2="378.30" stroke="#333" stroke-width="0.8"/>
<rect x="245.40" y="612.80" width="8.20" height="4.80" rx="0" stroke="#333" fill="#fff" stroke-width="0.9"/>
<line x1="248.60" y1="612.80" x2="248.60" y2="617.60" stroke="#333" stroke-width="0.8"/>
<line x1="254.00" y1="376.40" x2="277.20" y2="376.40" stroke="#444" stroke-width="0.9"/>
<line x1="254.00" y1="615.30" x2="277.20" y2="615.30" stroke="#555" stroke-width="0.9"/>
<line x1="241.00" y1="622.20" x2="277.20" y2="622.20" stroke="#555" stroke-width="0.9"/>
<line x1="271.40" y1="376.40" x2="271.40" y2="622.20" stroke="#999" stroke-width="1"/>
<path d="M271.40,376.70 L272.75,380.10 L270.05,380.10 Z" fill="#222"/>
<path d="M271.40,615.00 L270.05,611.60 L272.75,611.60 Z" fill="#222"/>
<path d="M271.40,615.60 L272.75,619.00 L270.05,619.00 Z" fill="#222"/>
<path d="M271.40,621.90 L270.05,618.50 L272.75,618.50 Z" fill="#222"/>
<text x="267.90" y="494.60" font-size="9.5" text-anchor="middle" fill="#3a3a3a" stroke="#3a3a3a" stroke-width="0.12" transform="rotate(-90 267.90 494.60)">E</text>
<text x="266.80" y="618.80" font-size="7" text-anchor="middle" fill="#3a3a3a" stroke="#3a3a3a" stroke-width="0.12" transform="rotate(-90 266.80 618.80)">F</text>
<line x1="240.70" y1="354.20" x2="278.30" y2="354.20" stroke="#555" stroke-width="0.9"/>
<path d="M240.90,354.20 L244.30,352.85 L244.30,355.55 Z" fill="#222"/>
<path d="M253.60,354.20 L250.20,355.55 L250.20,352.85 Z" fill="#222"/>
<text x="273.20" y="351.90" font-size="8.9" text-anchor="middle" fill="#3a3a3a" stroke="#3a3a3a" stroke-width="0.12" textLength="37.8" lengthAdjust="spacingAndGlyphs">94÷104</text>
<line x1="242.80" y1="622.20" x2="242.80" y2="647.50" stroke="#555" stroke-width="0.9"/>
<line x1="242.80" y1="645.30" x2="277.80" y2="645.30" stroke="#555" stroke-width="0.9"/>
<path d="M243.00,645.30 L246.40,643.95 L246.40,646.65 Z" fill="#222"/>
<path d="M253.60,645.30 L250.20,646.65 L250.20,643.95 Z" fill="#222"/>
<text x="273.05" y="643.30" font-size="9.3" text-anchor="middle" fill="#3a3a3a" stroke="#3a3a3a" stroke-width="0.12" textLength="31.3" lengthAdjust="spacingAndGlyphs">78÷88</text>
<line x1="463.30" y1="351.20" x2="463.30" y2="372.40" stroke="#777" stroke-width="0.9"/>
<line x1="500.00" y1="351.20" x2="500.00" y2="372.40" stroke="#777" stroke-width="0.9"/>
<line x1="463.30" y1="355.20" x2="500.00" y2="355.20" stroke="#555" stroke-width="0.9"/>
<path d="M463.50,355.20 L466.90,353.85 L466.90,356.55 Z" fill="#222"/>
<path d="M499.80,355.20 L496.40,356.55 L496.40,353.85 Z" fill="#222"/>
<text x="488.45" y="352.80" font-size="9.2" text-anchor="middle" fill="#3a3a3a" stroke="#3a3a3a" stroke-width="0.12" textLength="31.599999999999977" lengthAdjust="spacingAndGlyphs">B=290</text>
<rect x="467.09" y="374.40" width="4.00" height="242.80" rx="0" stroke="none" fill="#b8b8b8" stroke-width="1"/>
<rect x="474.07" y="374.40" width="2.60" height="242.80" rx="0" stroke="none" fill="#c4c4c4" stroke-width="1"/>
<rect x="486.33" y="374.40" width="3.20" height="242.80" rx="0" stroke="none" fill="#b8b8b8" stroke-width="1"/>
<rect x="492.21" y="374.40" width="4.00" height="242.80" rx="0" stroke="none" fill="#b8b8b8" stroke-width="1"/>
<rect x="463.75" y="370.85" width="4.40" height="249.90" rx="0.5" stroke="#7c7c7c" fill="none" stroke-width="0.9"/>
<rect x="470.03" y="370.85" width="4.40" height="249.90" rx="0.5" stroke="#7c7c7c" fill="none" stroke-width="0.9"/>
<rect x="476.31" y="370.85" width="4.40" height="249.90" rx="0.5" stroke="#7c7c7c" fill="none" stroke-width="0.9"/>
<rect x="482.59" y="370.85" width="4.40" height="249.90" rx="0.5" stroke="#7c7c7c" fill="none" stroke-width="0.9"/>
<rect x="488.87" y="370.85" width="4.40" height="249.90" rx="0.5" stroke="#7c7c7c" fill="none" stroke-width="0.9"/>
<rect x="495.15" y="370.85" width="4.40" height="249.90" rx="0.5" stroke="#7c7c7c" fill="none" stroke-width="0.9"/>
<rect x="467.89" y="374.00" width="2.40" height="6.40" rx="0" stroke="#333" fill="#999" stroke-width="0.7"/>
<rect x="467.89" y="610.60" width="2.40" height="6.60" rx="0" stroke="#333" fill="#999" stroke-width="0.7"/>
<rect x="474.17" y="374.00" width="2.40" height="6.40" rx="0" stroke="#333" fill="#999" stroke-width="0.7"/>
<rect x="474.17" y="610.60" width="2.40" height="6.60" rx="0" stroke="#333" fill="#999" stroke-width="0.7"/>
<rect x="480.45" y="374.00" width="2.40" height="6.40" rx="0" stroke="#333" fill="#999" stroke-width="0.7"/>
<rect x="480.45" y="610.60" width="2.40" height="6.60" rx="0" stroke="#333" fill="#999" stroke-width="0.7"/>
<rect x="486.73" y="374.00" width="2.40" height="6.40" rx="0" stroke="#333" fill="#999" stroke-width="0.7"/>
<rect x="486.73" y="610.60" width="2.40" height="6.60" rx="0" stroke="#333" fill="#999" stroke-width="0.7"/>
<rect x="493.01" y="374.00" width="2.40" height="6.40" rx="0" stroke="#333" fill="#999" stroke-width="0.7"/>
<rect x="493.01" y="610.60" width="2.40" height="6.60" rx="0" stroke="#333" fill="#999" stroke-width="0.7"/>
<line x1="463.80" y1="373.90" x2="463.80" y2="380.50" stroke="#333" stroke-width="1.3"/>
<line x1="499.50" y1="373.90" x2="499.50" y2="380.50" stroke="#333" stroke-width="1.3"/>
<line x1="463.80" y1="610.50" x2="463.80" y2="617.30" stroke="#333" stroke-width="1.3"/>
<line x1="499.50" y1="610.50" x2="499.50" y2="617.30" stroke="#333" stroke-width="1.3"/>
<line x1="523.30" y1="351.20" x2="523.30" y2="372.40" stroke="#777" stroke-width="0.9"/>
<line x1="585.60" y1="351.20" x2="585.60" y2="372.40" stroke="#777" stroke-width="0.9"/>
<line x1="523.30" y1="355.20" x2="585.60" y2="355.20" stroke="#555" stroke-width="0.9"/>
<path d="M523.50,355.20 L526.90,353.85 L526.90,356.55 Z" fill="#222"/>
<path d="M585.40,355.20 L582.00,356.55 L582.00,353.85 Z" fill="#222"/>
<text x="561.30" y="352.80" font-size="9.2" text-anchor="middle" fill="#3a3a3a" stroke="#3a3a3a" stroke-width="0.12" textLength="31.500000000000068" lengthAdjust="spacingAndGlyphs">B=490</text>
<rect x="533.65" y="374.40" width="3.60" height="242.80" rx="0" stroke="none" fill="#b4b4b4" stroke-width="1"/>
<rect x="552.95" y="374.40" width="3.00" height="242.80" rx="0" stroke="none" fill="#b4b4b4" stroke-width="1"/>
<rect x="558.98" y="374.40" width="3.60" height="242.80" rx="0" stroke="none" fill="#b4b4b4" stroke-width="1"/>
<rect x="578.18" y="374.40" width="3.20" height="242.80" rx="0" stroke="none" fill="#b4b4b4" stroke-width="1"/>
<rect x="523.75" y="370.85" width="4.40" height="249.90" rx="0.5" stroke="#7c7c7c" fill="none" stroke-width="0.9"/>
<rect x="530.08" y="370.85" width="4.40" height="249.90" rx="0.5" stroke="#7c7c7c" fill="none" stroke-width="0.9"/>
<rect x="536.42" y="370.85" width="4.40" height="249.90" rx="0.5" stroke="#7c7c7c" fill="none" stroke-width="0.9"/>
<rect x="542.75" y="370.85" width="4.40" height="249.90" rx="0.5" stroke="#7c7c7c" fill="none" stroke-width="0.9"/>
<rect x="549.08" y="370.85" width="4.40" height="249.90" rx="0.5" stroke="#7c7c7c" fill="none" stroke-width="0.9"/>
<rect x="555.42" y="370.85" width="4.40" height="249.90" rx="0.5" stroke="#7c7c7c" fill="none" stroke-width="0.9"/>
<rect x="561.75" y="370.85" width="4.40" height="249.90" rx="0.5" stroke="#7c7c7c" fill="none" stroke-width="0.9"/>
<rect x="568.08" y="370.85" width="4.40" height="249.90" rx="0.5" stroke="#7c7c7c" fill="none" stroke-width="0.9"/>
<rect x="574.42" y="370.85" width="4.40" height="249.90" rx="0.5" stroke="#7c7c7c" fill="none" stroke-width="0.9"/>
<rect x="580.75" y="370.85" width="4.40" height="249.90" rx="0.5" stroke="#7c7c7c" fill="none" stroke-width="0.9"/>
<rect x="527.92" y="374.00" width="2.40" height="6.40" rx="0" stroke="#333" fill="#999" stroke-width="0.7"/>
<rect x="527.92" y="610.60" width="2.40" height="6.60" rx="0" stroke="#333" fill="#999" stroke-width="0.7"/>
<rect x="534.25" y="374.00" width="2.40" height="6.40" rx="0" stroke="#333" fill="#999" stroke-width="0.7"/>
<rect x="534.25" y="610.60" width="2.40" height="6.60" rx="0" stroke="#333" fill="#999" stroke-width="0.7"/>
<rect x="540.58" y="374.00" width="2.40" height="6.40" rx="0" stroke="#333" fill="#999" stroke-width="0.7"/>
<rect x="540.58" y="610.60" width="2.40" height="6.60" rx="0" stroke="#333" fill="#999" stroke-width="0.7"/>
<rect x="546.92" y="374.00" width="2.40" height="6.40" rx="0" stroke="#333" fill="#999" stroke-width="0.7"/>
<rect x="546.92" y="610.60" width="2.40" height="6.60" rx="0" stroke="#333" fill="#999" stroke-width="0.7"/>
<rect x="553.25" y="374.00" width="2.40" height="6.40" rx="0" stroke="#333" fill="#999" stroke-width="0.7"/>
<rect x="553.25" y="610.60" width="2.40" height="6.60" rx="0" stroke="#333" fill="#999" stroke-width="0.7"/>
<rect x="559.58" y="374.00" width="2.40" height="6.40" rx="0" stroke="#333" fill="#999" stroke-width="0.7"/>
<rect x="559.58" y="610.60" width="2.40" height="6.60" rx="0" stroke="#333" fill="#999" stroke-width="0.7"/>
<rect x="565.92" y="374.00" width="2.40" height="6.40" rx="0" stroke="#333" fill="#999" stroke-width="0.7"/>
<rect x="565.92" y="610.60" width="2.40" height="6.60" rx="0" stroke="#333" fill="#999" stroke-width="0.7"/>
<rect x="572.25" y="374.00" width="2.40" height="6.40" rx="0" stroke="#333" fill="#999" stroke-width="0.7"/>
<rect x="572.25" y="610.60" width="2.40" height="6.60" rx="0" stroke="#333" fill="#999" stroke-width="0.7"/>
<rect x="578.58" y="374.00" width="2.40" height="6.40" rx="0" stroke="#333" fill="#999" stroke-width="0.7"/>
<rect x="578.58" y="610.60" width="2.40" height="6.60" rx="0" stroke="#333" fill="#999" stroke-width="0.7"/>
<line x1="523.80" y1="373.90" x2="523.80" y2="380.50" stroke="#333" stroke-width="1.3"/>
<line x1="585.10" y1="373.90" x2="585.10" y2="380.50" stroke="#333" stroke-width="1.3"/>
<line x1="523.80" y1="610.50" x2="523.80" y2="617.30" stroke="#333" stroke-width="1.3"/>
<line x1="585.10" y1="610.50" x2="585.10" y2="617.30" stroke="#333" stroke-width="1.3"/>
<line x1="607.00" y1="351.20" x2="607.00" y2="372.40" stroke="#777" stroke-width="0.9"/>
<line x1="693.30" y1="351.20" x2="693.30" y2="372.40" stroke="#777" stroke-width="0.9"/>
<line x1="607.00" y1="355.20" x2="693.30" y2="355.20" stroke="#555" stroke-width="0.9"/>
<path d="M607.20,355.20 L610.60,353.85 L610.60,356.55 Z" fill="#222"/>
<path d="M693.10,355.20 L689.70,356.55 L689.70,353.85 Z" fill="#222"/>
<text x="657.15" y="352.80" font-size="9.2" text-anchor="middle" fill="#3a3a3a" stroke="#3a3a3a" stroke-width="0.12" textLength="32.2" lengthAdjust="spacingAndGlyphs">B=690</text>
<rect x="610.77" y="374.40" width="4.00" height="242.80" rx="0" stroke="none" fill="#b4b4b4" stroke-width="1"/>
<rect x="617.00" y="374.40" width="4.00" height="242.80" rx="0" stroke="none" fill="#b4b4b4" stroke-width="1"/>
<rect x="622.93" y="374.40" width="4.60" height="242.80" rx="0" stroke="none" fill="#b0b0b0" stroke-width="1"/>
<rect x="629.26" y="374.40" width="4.40" height="242.80" rx="0" stroke="none" fill="#b4b4b4" stroke-width="1"/>
<rect x="635.59" y="374.40" width="4.20" height="242.80" rx="0" stroke="none" fill="#b4b4b4" stroke-width="1"/>
<rect x="641.92" y="374.40" width="4.00" height="242.80" rx="0" stroke="none" fill="#b4b4b4" stroke-width="1"/>
<rect x="648.55" y="374.40" width="3.20" height="242.80" rx="0" stroke="none" fill="#b0b0b0" stroke-width="1"/>
<rect x="654.88" y="374.40" width="3.00" height="242.80" rx="0" stroke="none" fill="#b4b4b4" stroke-width="1"/>
<rect x="661.11" y="374.40" width="3.00" height="242.80" rx="0" stroke="none" fill="#b0b0b0" stroke-width="1"/>
<rect x="667.04" y="374.40" width="3.60" height="242.80" rx="0" stroke="none" fill="#b4b4b4" stroke-width="1"/>
<rect x="607.45" y="370.85" width="4.40" height="249.90" rx="0.5" stroke="#7c7c7c" fill="none" stroke-width="0.9"/>
<rect x="613.68" y="370.85" width="4.40" height="249.90" rx="0.5" stroke="#7c7c7c" fill="none" stroke-width="0.9"/>
<rect x="619.91" y="370.85" width="4.40" height="249.90" rx="0.5" stroke="#7c7c7c" fill="none" stroke-width="0.9"/>
<rect x="626.14" y="370.85" width="4.40" height="249.90" rx="0.5" stroke="#7c7c7c" fill="none" stroke-width="0.9"/>
<rect x="632.37" y="370.85" width="4.40" height="249.90" rx="0.5" stroke="#7c7c7c" fill="none" stroke-width="0.9"/>
<rect x="638.60" y="370.85" width="4.40" height="249.90" rx="0.5" stroke="#7c7c7c" fill="none" stroke-width="0.9"/>
<rect x="644.83" y="370.85" width="4.40" height="249.90" rx="0.5" stroke="#7c7c7c" fill="none" stroke-width="0.9"/>
<rect x="651.07" y="370.85" width="4.40" height="249.90" rx="0.5" stroke="#7c7c7c" fill="none" stroke-width="0.9"/>
<rect x="657.30" y="370.85" width="4.40" height="249.90" rx="0.5" stroke="#7c7c7c" fill="none" stroke-width="0.9"/>
<rect x="663.53" y="370.85" width="4.40" height="249.90" rx="0.5" stroke="#7c7c7c" fill="none" stroke-width="0.9"/>
<rect x="669.76" y="370.85" width="4.40" height="249.90" rx="0.5" stroke="#7c7c7c" fill="none" stroke-width="0.9"/>
<rect x="675.99" y="370.85" width="4.40" height="249.90" rx="0.5" stroke="#7c7c7c" fill="none" stroke-width="0.9"/>
<rect x="682.22" y="370.85" width="4.40" height="249.90" rx="0.5" stroke="#7c7c7c" fill="none" stroke-width="0.9"/>
<rect x="688.45" y="370.85" width="4.40" height="249.90" rx="0.5" stroke="#7c7c7c" fill="none" stroke-width="0.9"/>
<rect x="611.57" y="374.00" width="2.40" height="6.40" rx="0" stroke="#333" fill="#999" stroke-width="0.7"/>
<rect x="611.57" y="610.60" width="2.40" height="6.60" rx="0" stroke="#333" fill="#999" stroke-width="0.7"/>
<rect x="617.80" y="374.00" width="2.40" height="6.40" rx="0" stroke="#333" fill="#999" stroke-width="0.7"/>
<rect x="617.80" y="610.60" width="2.40" height="6.60" rx="0" stroke="#333" fill="#999" stroke-width="0.7"/>
<rect x="624.03" y="374.00" width="2.40" height="6.40" rx="0" stroke="#333" fill="#999" stroke-width="0.7"/>
<rect x="624.03" y="610.60" width="2.40" height="6.60" rx="0" stroke="#333" fill="#999" stroke-width="0.7"/>
<rect x="630.26" y="374.00" width="2.40" height="6.40" rx="0" stroke="#333" fill="#999" stroke-width="0.7"/>
<rect x="630.26" y="610.60" width="2.40" height="6.60" rx="0" stroke="#333" fill="#999" stroke-width="0.7"/>
<rect x="636.49" y="374.00" width="2.40" height="6.40" rx="0" stroke="#333" fill="#999" stroke-width="0.7"/>
<rect x="636.49" y="610.60" width="2.40" height="6.60" rx="0" stroke="#333" fill="#999" stroke-width="0.7"/>
<rect x="642.72" y="374.00" width="2.40" height="6.40" rx="0" stroke="#333" fill="#999" stroke-width="0.7"/>
<rect x="642.72" y="610.60" width="2.40" height="6.60" rx="0" stroke="#333" fill="#999" stroke-width="0.7"/>
<rect x="648.95" y="374.00" width="2.40" height="6.40" rx="0" stroke="#333" fill="#999" stroke-width="0.7"/>
<rect x="648.95" y="610.60" width="2.40" height="6.60" rx="0" stroke="#333" fill="#999" stroke-width="0.7"/>
<rect x="655.18" y="374.00" width="2.40" height="6.40" rx="0" stroke="#333" fill="#999" stroke-width="0.7"/>
<rect x="655.18" y="610.60" width="2.40" height="6.60" rx="0" stroke="#333" fill="#999" stroke-width="0.7"/>
<rect x="661.41" y="374.00" width="2.40" height="6.40" rx="0" stroke="#333" fill="#999" stroke-width="0.7"/>
<rect x="661.41" y="610.60" width="2.40" height="6.60" rx="0" stroke="#333" fill="#999" stroke-width="0.7"/>
<rect x="667.64" y="374.00" width="2.40" height="6.40" rx="0" stroke="#333" fill="#999" stroke-width="0.7"/>
<rect x="667.64" y="610.60" width="2.40" height="6.60" rx="0" stroke="#333" fill="#999" stroke-width="0.7"/>
<rect x="673.87" y="374.00" width="2.40" height="6.40" rx="0" stroke="#333" fill="#999" stroke-width="0.7"/>
<rect x="673.87" y="610.60" width="2.40" height="6.60" rx="0" stroke="#333" fill="#999" stroke-width="0.7"/>
<rect x="680.10" y="374.00" width="2.40" height="6.40" rx="0" stroke="#333" fill="#999" stroke-width="0.7"/>
<rect x="680.10" y="610.60" width="2.40" height="6.60" rx="0" stroke="#333" fill="#999" stroke-width="0.7"/>
<rect x="686.33" y="374.00" width="2.40" height="6.40" rx="0" stroke="#333" fill="#999" stroke-width="0.7"/>
<rect x="686.33" y="610.60" width="2.40" height="6.60" rx="0" stroke="#333" fill="#999" stroke-width="0.7"/>
<line x1="607.50" y1="373.90" x2="607.50" y2="380.50" stroke="#333" stroke-width="1.3"/>
<line x1="692.80" y1="373.90" x2="692.80" y2="380.50" stroke="#333" stroke-width="1.3"/>
<line x1="607.50" y1="610.50" x2="607.50" y2="617.30" stroke="#333" stroke-width="1.3"/>
<line x1="692.80" y1="610.50" x2="692.80" y2="617.30" stroke="#333" stroke-width="1.3"/>
</svg>
</body></html>
